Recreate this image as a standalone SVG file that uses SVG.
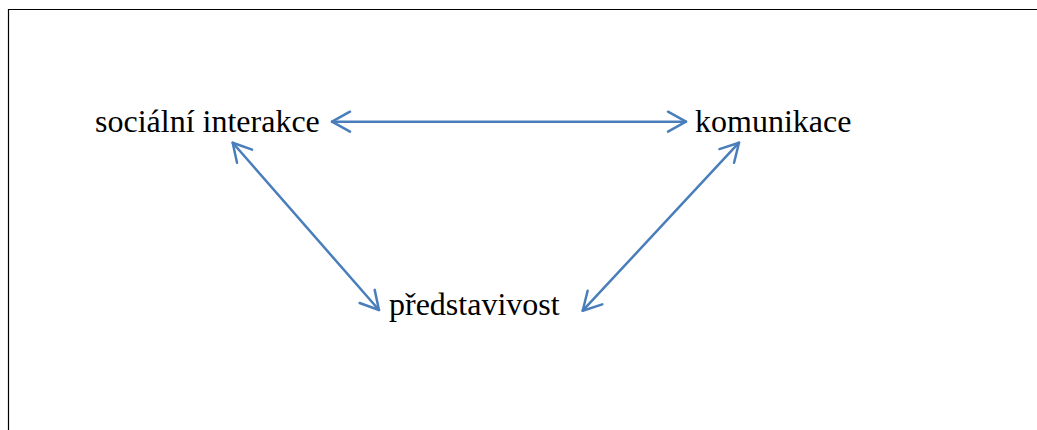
<svg xmlns="http://www.w3.org/2000/svg" width="1037" height="430" viewBox="0 0 1037 430">
<style>
.lbl{font-family:"Liberation Serif","Times New Roman",serif;font-size:32px;fill:#000}
.conn{stroke:#4a7ebb;stroke-width:2.5;fill:none;stroke-linecap:round}
.head{stroke:#4a7ebb;stroke-width:2.5;fill:none;stroke-linecap:round;stroke-linejoin:round}
</style>
<defs>
<marker id="ah" viewBox="-22 -12 24 24" markerWidth="24" markerHeight="24" refX="0" refY="0" orient="auto-start-reverse" markerUnits="userSpaceOnUse">
<path class="head" d="M-18,-10 L0,0 L-18,10"/>
</marker>
</defs>
<rect width="1037" height="430" fill="#fff"/>
<path d="M8.5,430 L8.5,9.5 L1037,9.5" stroke="#000" stroke-width="1.2" fill="none"/>
<g id="connectors">
<line class="conn" x1="332" y1="121.7" x2="686" y2="121.7" marker-start="url(#ah)" marker-end="url(#ah)"/>
<line class="conn" x1="232.7" y1="142.7" x2="379" y2="310" marker-start="url(#ah)" marker-end="url(#ah)"/>
<line class="conn" x1="739" y1="142.7" x2="582.7" y2="310.7" marker-start="url(#ah)" marker-end="url(#ah)"/>
</g>
<g id="socialni-interakce"><text class="lbl" x="95" y="131.7">sociální interakce</text></g>
<g id="komunikace"><text class="lbl" x="695" y="131.7">komunikace</text></g>
<g id="predstavivost"><text class="lbl" x="389" y="315">představivost</text></g>
</svg>
